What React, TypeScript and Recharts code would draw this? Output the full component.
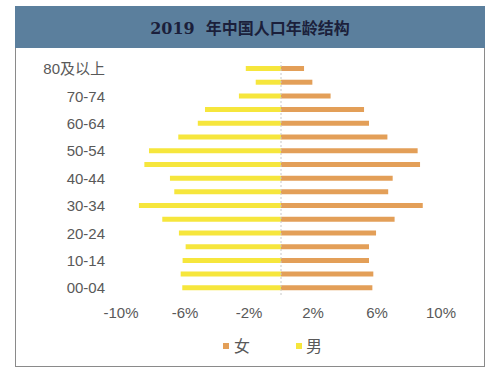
import React from "react";
import { Bar, BarChart, ReferenceLine, XAxis, YAxis } from "recharts";

// 2019 population pyramid: men to the left (negative), women to the right.
const ageGroups = [
  "80及以上", "75-79", "70-74", "65-69", "60-64", "55-59", "50-54", "45-49", "40-44",
  "35-39", "30-34", "25-29", "20-24", "15-19", "10-14", "05-09", "00-04",
];
const femaleShare = [
  1.44, 1.96, 3.1, 5.19, 5.5, 6.65, 8.54, 8.69, 6.98, 6.7, 8.86, 7.1, 5.94, 5.5, 5.5, 5.77, 5.71,
];
const maleShare = [
  2.2, 1.58, 2.63, 4.75, 5.2, 6.42, 8.25, 8.54, 6.94, 6.67, 8.88, 7.42, 6.38, 5.96, 6.15, 6.27, 6.17,
];
const xTicks = [-10, -6, -2, 2, 6, 10];

const FEMALE = "#e39f58";
const MALE = "#f6e63c";
const TEXT = "#595959";
const FONT = "'Liberation Sans', Arial, 'Noto Sans CJK SC', sans-serif";

const data = ageGroups.map((age, i) => ({
  age,
  female: femaleShare[i],
  male: -maleShare[i],
}));

export default function App() {
  return (
    <div
      style={{
        position: "absolute",
        left: 0,
        top: 0,
        width: 500,
        height: 372,
        background: "#fff",
        fontFamily: FONT,
      }}
    >
      <div
        style={{
          position: "absolute",
          left: 15,
          top: 6,
          width: 470,
          height: 361,
          border: "1px solid #8a8a8a",
          boxSizing: "border-box",
        }}
      />
      <div
        style={{
          position: "absolute",
          left: 15,
          top: 6,
          width: 470,
          height: 42,
          background: "#5b7f9d",
          display: "flex",
          alignItems: "center",
          justifyContent: "center",
          color: "#1b1f3b",
          fontWeight: "bold",
          fontSize: 16,
          fontFamily: "'DejaVu Serif', 'Noto Sans CJK SC', serif",
        }}
      >
        2019&nbsp; 年中国人口年龄结构
      </div>

      <div style={{ position: "absolute", left: 0, top: 0 }}>
        <BarChart
          width={500}
          height={372}
          data={data}
          layout="vertical"
          stackOffset="sign"
          barSize={5}
          margin={{ top: 62, right: 59, bottom: 47, left: 0 }}
        >
          <XAxis
            type="number"
            domain={[-10, 10]}
            ticks={xTicks}
            tickFormatter={(v: number) => `${v}%`}
            axisLine={false}
            tickLine={false}
            tickSize={0}
            tickMargin={12}
            height={30}
            tick={{ fontSize: 15, fill: TEXT, fontFamily: FONT }}
          />
          <YAxis
            type="category"
            dataKey="age"
            interval={1}
            width={121}
            axisLine={false}
            tickLine={false}
            tickSize={0}
            tickMargin={16}
            tick={{ fontSize: 15, fill: TEXT, fontFamily: FONT }}
          />
          <ReferenceLine x={0} stroke="#c8c8c8" strokeDasharray="2 2" />
          <Bar dataKey="female" stackId="pop" fill={FEMALE} isAnimationActive={false} />
          <Bar dataKey="male" stackId="pop" fill={MALE} isAnimationActive={false} />
        </BarChart>
      </div>

      <div style={{ position: "absolute", left: 223, top: 343, width: 6, height: 6, background: FEMALE }} />
      <div
        style={{ position: "absolute", left: 234, top: 337, fontSize: 16, color: TEXT, lineHeight: "20px" }}
      >
        女
      </div>
      <div style={{ position: "absolute", left: 296, top: 343, width: 6, height: 6, background: MALE }} />
      <div
        style={{ position: "absolute", left: 306, top: 337, fontSize: 16, color: TEXT, lineHeight: "20px" }}
      >
        男
      </div>
    </div>
  );
}
